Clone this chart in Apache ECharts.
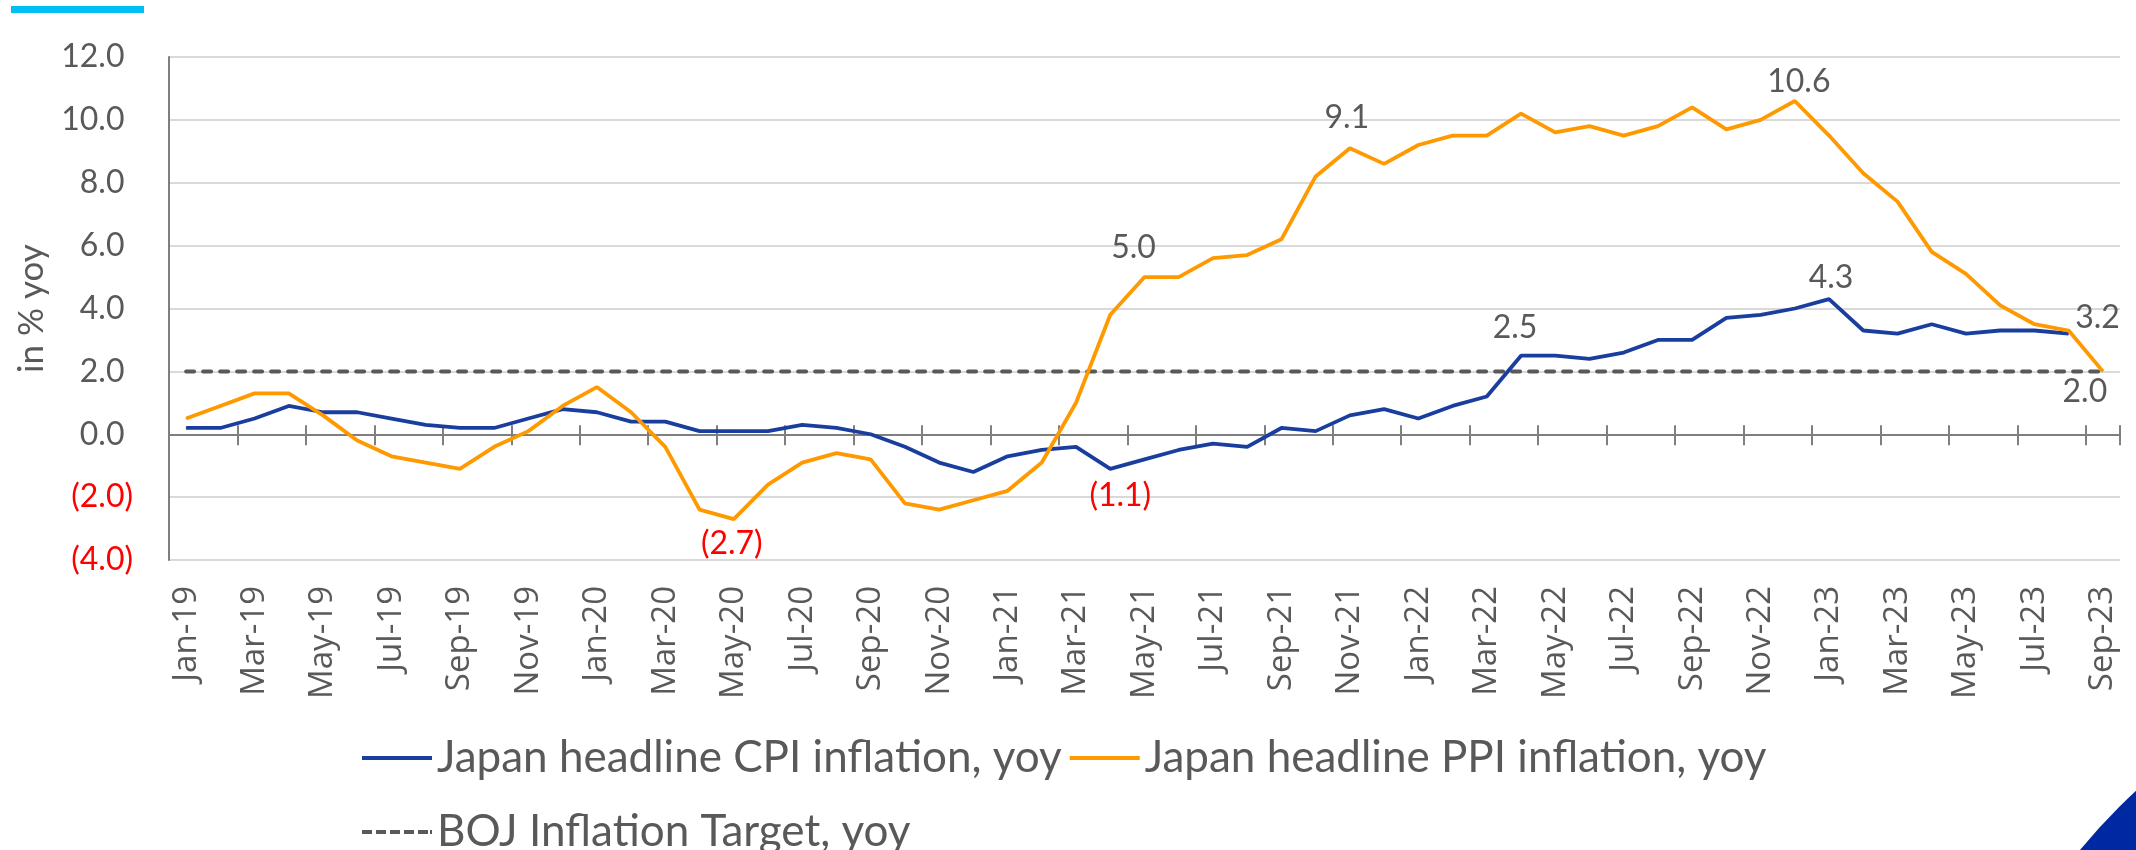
<!DOCTYPE html>
<html>
<head>
<meta charset="utf-8">
<title>Japan CPI vs PPI</title>
<script src="https://cdn.jsdelivr.net/npm/echarts@6/dist/echarts.min.js"></script>
<style>
  html, body { margin: 0; padding: 0; background: #fff; }
  #chart { width: 2136px; height: 850px; }
</style>
</head>
<body>
<div id="chart"></div>
<script>
// months Jan-19 .. Sep-23
var months = [
  'Jan-19','Feb-19','Mar-19','Apr-19','May-19','Jun-19','Jul-19','Aug-19','Sep-19','Oct-19','Nov-19','Dec-19',
  'Jan-20','Feb-20','Mar-20','Apr-20','May-20','Jun-20','Jul-20','Aug-20','Sep-20','Oct-20','Nov-20','Dec-20',
  'Jan-21','Feb-21','Mar-21','Apr-21','May-21','Jun-21','Jul-21','Aug-21','Sep-21','Oct-21','Nov-21','Dec-21',
  'Jan-22','Feb-22','Mar-22','Apr-22','May-22','Jun-22','Jul-22','Aug-22','Sep-22','Oct-22','Nov-22','Dec-22',
  'Jan-23','Feb-23','Mar-23','Apr-23','May-23','Jun-23','Jul-23','Aug-23','Sep-23'
];

var cpi = [
  0.2, 0.2, 0.5, 0.9, 0.7, 0.7, 0.5, 0.3, 0.2, 0.2, 0.5, 0.8,
  0.7, 0.4, 0.4, 0.1, 0.1, 0.1, 0.3, 0.2, 0.0, -0.4, -0.9, -1.2,
  -0.7, -0.5, -0.4, -1.1, -0.8, -0.5, -0.3, -0.4, 0.2, 0.1, 0.6, 0.8,
  0.5, 0.9, 1.2, 2.5, 2.5, 2.4, 2.6, 3.0, 3.0, 3.7, 3.8, 4.0,
  4.3, 3.3, 3.2, 3.5, 3.2, 3.3, 3.3, 3.2, null
];

var ppi = [
  0.5, 0.9, 1.3, 1.3, 0.6, -0.2, -0.7, -0.9, -1.1, -0.4, 0.1, 0.9,
  1.5, 0.7, -0.4, -2.4, -2.7, -1.6, -0.9, -0.6, -0.8, -2.2, -2.4, -2.1,
  -1.8, -0.9, 1.0, 3.8, 5.0, 5.0, 5.6, 5.7, 6.2, 8.2, 9.1, 8.6,
  9.2, 9.5, 9.5, 10.2, 9.6, 9.8, 9.5, 9.8, 10.4, 9.7, 10.0, 10.6,
  9.5, 8.3, 7.4, 5.8, 5.1, 4.1, 3.5, 3.3, 2.0
];

var bojTarget = [
  2.0, 2.0, 2.0, 2.0, 2.0, 2.0, 2.0, 2.0, 2.0, 2.0, 2.0, 2.0,
  2.0, 2.0, 2.0, 2.0, 2.0, 2.0, 2.0, 2.0, 2.0, 2.0, 2.0, 2.0,
  2.0, 2.0, 2.0, 2.0, 2.0, 2.0, 2.0, 2.0, 2.0, 2.0, 2.0, 2.0,
  2.0, 2.0, 2.0, 2.0, 2.0, 2.0, 2.0, 2.0, 2.0, 2.0, 2.0, 2.0,
  2.0, 2.0, 2.0, 2.0, 2.0, 2.0, 2.0, 2.0, 2.0
];

var yTicks = [-4, -2, 0, 2, 4, 6, 8, 10, 12];

// points that carry a value label
var cpiLabelled = [27, 39, 48, 55];
var ppiLabelled = [16, 28, 34, 47, 56];

var CPI_NAME = 'Japan headline CPI inflation, yoy';
var PPI_NAME = 'Japan headline PPI inflation, yoy';
var BOJ_NAME = 'BOJ Inflation Target, yoy';

var GREY = '#595959';
var RED = '#ff0000';
var NUM_FONT = 'Lato';

function fmt(v) {
  return v < 0 ? '(' + Math.abs(v).toFixed(1) + ')' : v.toFixed(1);
}

// label placement, by point index
var cpiPlace = {
  27: { position: 'bottom', distance: 10, offset: [10, 0] },
  39: { position: 'top', distance: 11, offset: [-6, 0] },
  48: { position: 'top', distance: 5, offset: [2, 0] },
  55: { position: 'right', distance: 6, offset: [0, -16] }
};
var ppiPlace = {
  16: { position: 'bottom', distance: 8, offset: [-2, 0] },
  28: { position: 'top', distance: 13, offset: [-11, 0] },
  34: { position: 'top', distance: 14, offset: [-3, 0] },
  47: { position: 'top', distance: 3, offset: [4, 0] },
  56: { position: 'bottom', distance: 4, offset: [-18, 0] }
};

function withLabels(values, idxs, place) {
  return values.map(function (v, i) {
    if (idxs.indexOf(i) < 0) return v;
    var p = place[i];
    return {
      value: v,
      label: {
        show: true,
        position: p.position,
        distance: p.distance,
        offset: p.offset || [0, 0],
        formatter: fmt(v),
        color: v < 0 ? RED : GREY,
        fontFamily: NUM_FONT,
        fontSize: 32
      }
    };
  });
}

var chart = echarts.init(document.getElementById('chart'));

var tickAxisBase = {
  type: 'category',
  data: months,
  boundaryGap: true,
  axisLabel: { show: false },
  splitLine: { show: false }
};

var option = {
  animation: false,
  backgroundColor: '#fff',
  textStyle: { fontFamily: NUM_FONT },
  grid: { left: 169, right: 16, top: 57, bottom: 290, containLabel: false },
  graphic: [
    { type: 'rect', left: 11, top: 6, shape: { width: 133, height: 7 }, style: { fill: '#00bff3' }, silent: true },
    { type: 'circle', shape: { cx: 2566, cy: 1254, r: 632 }, style: { fill: '#0028a0' }, silent: true }
  ],
  legend: [
    {
      left: 357, top: 731,
      data: [
        { name: CPI_NAME, icon: 'rect' },
        { name: PPI_NAME, icon: 'rect' }
      ],
      itemWidth: 70, itemHeight: 4, itemGap: 8,
      textStyle: { color: GREY, fontFamily: NUM_FONT, fontSize: 44 },
      selectedMode: false
    },
    {
      left: 357, top: 805,
      data: [
        { name: BOJ_NAME, icon: 'path://M0 0h10v4h-10zM14 0h10v4h-10zM28 0h10v4h-10zM42 0h10v4h-10zM56 0h10v4h-10zM68 0h2v4h-2z' }
      ],
      itemWidth: 70, itemHeight: 4,
      textStyle: { color: GREY, fontFamily: NUM_FONT, fontSize: 44 },
      selectedMode: false
    }
  ],
  xAxis: [
    {
      // month labels along the bottom
      type: 'category',
      data: months,
      boundaryGap: true,
      position: 'bottom',
      axisLine: { show: false, onZero: false },
      axisTick: { show: false },
      splitLine: { show: false },
      axisLabel: {
        interval: 1,
        rotate: 90,
        margin: 26,
        color: GREY,
        fontFamily: 'Open Sans',
        fontSize: 33
      }
    },
    Object.assign({}, tickAxisBase, {
      position: 'bottom',
      axisLine: { show: true, onZero: true, onZeroAxisIndex: 0, lineStyle: { color: '#7f7f7f', width: 2 } },
      axisTick: { show: true, interval: 1, length: 11, lineStyle: { color: '#7f7f7f', width: 2 } }
    }),
    Object.assign({}, tickAxisBase, {
      position: 'top',
      axisLine: { show: false, onZero: true, onZeroAxisIndex: 0 },
      axisTick: { show: true, interval: 1, length: 9, lineStyle: { color: '#7f7f7f', width: 2 } }
    })
  ],
  yAxis: {
    type: 'value',
    min: yTicks[0],
    max: yTicks[yTicks.length - 1],
    interval: 2,
    name: 'in % yoy',
    nameLocation: 'middle',
    nameRotate: 90,
    nameGap: 120,
    nameTextStyle: { color: GREY, fontFamily: NUM_FONT, fontSize: 35 },
    axisLine: { show: true, lineStyle: { color: '#7f7f7f', width: 2 } },
    axisTick: { show: false },
    splitLine: { lineStyle: { color: '#d9d9d9', width: 2 } },
    axisLabel: {
      margin: 36,
      fontFamily: NUM_FONT,
      fontSize: 32,
      formatter: function (v) {
        return v < 0 ? '{n|' + fmt(v) + '}' : '{p|' + fmt(v) + '}{h|)}';
      },
      rich: {
        p: { color: GREY, fontFamily: NUM_FONT, fontSize: 32 },
        n: { color: RED, fontFamily: NUM_FONT, fontSize: 32 },
        h: { color: 'rgba(0,0,0,0)', fontFamily: NUM_FONT, fontSize: 32 }
      }
    }
  },
  series: [
    {
      name: BOJ_NAME,
      type: 'line',
      data: bojTarget,
      symbol: 'none',
      z: 2,
      lineStyle: { color: GREY, width: 4, type: [8, 9], cap: 'round' },
      itemStyle: { color: GREY }
    },
    {
      name: CPI_NAME,
      type: 'line',
      data: withLabels(cpi, cpiLabelled, cpiPlace),
      symbol: 'circle',
      symbolSize: 1,
      showAllSymbol: true,
      z: 3,
      lineStyle: { color: '#1a3e9e', width: 3.8 },
      itemStyle: { color: '#1a3e9e' }
    },
    {
      name: PPI_NAME,
      type: 'line',
      data: withLabels(ppi, ppiLabelled, ppiPlace),
      symbol: 'circle',
      symbolSize: 1,
      showAllSymbol: true,
      z: 4,
      lineStyle: { color: '#ff9900', width: 3.8 },
      itemStyle: { color: '#ff9900' }
    }
  ]
};

chart.setOption(option);
</script>
</body>
</html>
